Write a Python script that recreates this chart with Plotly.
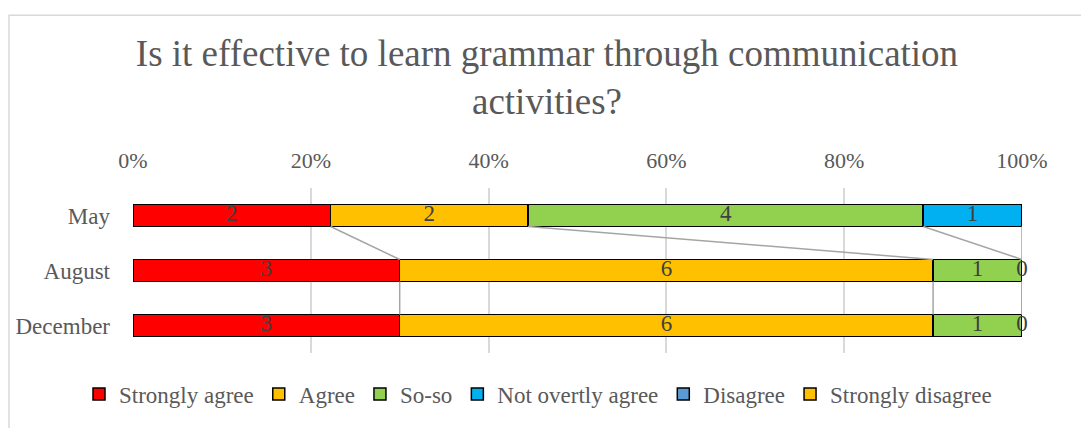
import plotly.graph_objects as go

categories = ["May", "August", "December"]
series_names = ["Strongly agree", "Agree", "So-so", "Not overtly agree", "Disagree", "Strongly disagree"]
series_colors = ["#FF0000", "#FFC000", "#92D050", "#00B0F0", "#5B9BD5", "#FFC000"]
strongly_agree = [2, 3, 3]
agree = [2, 6, 6]
so_so = [4, 1, 1]
not_overtly_agree = [1, 0, 0]
disagree = [None, None, None]
strongly_disagree = [None, None, None]
tick_vals = [0, 20, 40, 60, 80, 100]
tick_text = ["0%", "20%", "40%", "60%", "80%", "100%"]
title_text = "Is it effective to learn grammar through communication<br>activities?"

all_series = [strongly_agree, agree, so_so, not_overtly_agree, disagree, strongly_disagree]

FONT = "Liberation Serif, Times New Roman, serif"
W, H = 1081, 428
L, R, T, B = 133, 59, 188, 71
BAR_W = 0.4

ypos = list(range(len(categories)))
totals = [sum((s[j] or 0) for s in all_series) for j in ypos]
pct = [[(s[j] * 100.0 / totals[j]) if s[j] is not None else None for j in ypos] for s in all_series]

# cumulative right edges
cum = []
running = [0.0] * len(categories)
for p in pct:
    ends = []
    for j in ypos:
        if p[j] is None:
            ends.append(None)
        else:
            running[j] += p[j]
            ends.append(running[j])
    cum.append(ends)

fig = go.Figure()

# series lines
for i, name in enumerate(series_names):
    xs, ys = [], []
    for j in range(len(categories) - 1):
        a, b = cum[i][j], cum[i][j + 1]
        if a is None or b is None:
            continue
        xs += [a, b, None]
        ys += [j + BAR_W / 2, j + 1 - BAR_W / 2, None]
    if xs:
        fig.add_trace(go.Scatter(x=xs, y=ys, mode="lines", line=dict(color="#A5A5A5", width=1.5),
                                 showlegend=False, hoverinfo="skip", cliponaxis=False))

for i, name in enumerate(series_names):
    has = any(v is not None for v in pct[i])
    fig.add_trace(go.Bar(
        name=name, y=ypos,
        x=[(v if v is not None else 0) for v in pct[i]] if has else [None] * len(ypos),
        orientation="h", width=BAR_W,
        marker=dict(color=series_colors[i], line=dict(color="#000000", width=1.5)),
        hoverinfo="skip",
    ))

# data labels
lx, ly, lt = [], [], []
for i in range(len(series_names)):
    for j in ypos:
        if pct[i][j] is None:
            continue
        lx.append(cum[i][j] - pct[i][j] / 2)
        ly.append(j)
        lt.append(str(all_series[i][j]))
fig.add_trace(go.Scatter(x=lx, y=ly, text=lt, mode="text", textposition="middle center",
                         textfont=dict(family=FONT, size=23, color="#404040"),
                         showlegend=False, hoverinfo="skip", cliponaxis=False))

pw, ph = W - L - R, H - T - B
def px_x(v): return (v - L) / pw
def px_y(v): return (H - B - v) / ph

fig.update_layout(
    width=W, height=H, margin=dict(l=L, r=R, t=T, b=B),
    paper_bgcolor="white", plot_bgcolor="white",
    barmode="stack",
    title=dict(text=title_text, x=0.506, xanchor="center", xref="container",
               y=1 - 66 / H, yanchor="top", yref="container",
               font=dict(family=FONT, size=37, color="#595959")),
    xaxis=dict(side="top", range=[0, 100], tickvals=tick_vals, ticktext=tick_text,
               showgrid=True, gridcolor="#D9D9D9", gridwidth=1.5, zeroline=False,
               showline=False, ticks="", ticklabelstandoff=15,
               tickfont=dict(family=FONT, size=22, color="#595959"), fixedrange=True),
    yaxis=dict(range=[len(categories) - 0.5, -0.5], tickvals=ypos, ticktext=categories,
               showgrid=False, zeroline=False, showline=False, ticks="", ticklabelstandoff=22,
               tickfont=dict(family=FONT, size=23, color="#595959"), fixedrange=True),
    legend=dict(orientation="h", x=px_x(79), xanchor="left", xref="paper",
                y=px_y(399), yanchor="middle", yref="paper",
                font=dict(family=FONT, size=23, color="#595959"),
                itemwidth=30, traceorder="normal"),
    showlegend=True,
    shapes=[dict(type="rect", xref="paper", yref="paper",
                 x0=px_x(9), x1=px_x(W + 20), y0=px_y(H + 20), y1=px_y(11),
                 line=dict(color="#D9D9D9", width=1.5), fillcolor="rgba(0,0,0,0)", layer="below")],
)

fig.write_html("out.html")
